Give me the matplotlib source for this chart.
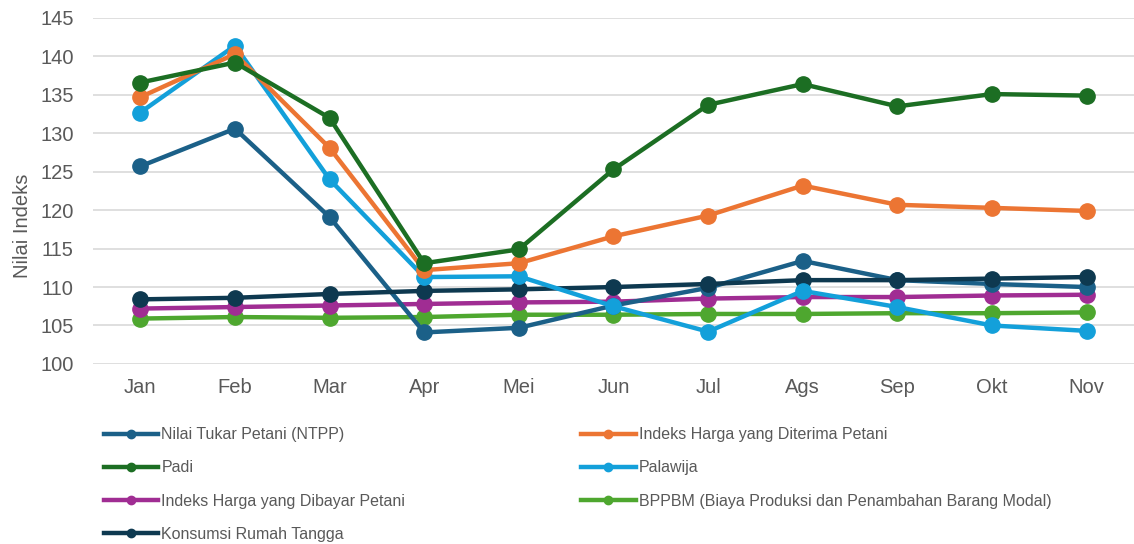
import matplotlib
matplotlib.use("Agg")
from matplotlib import pyplot as plt
from matplotlib.lines import Line2D

plt.rcParams['font.family'] = ['Liberation Sans', 'DejaVu Sans']

months = ["Jan", "Feb", "Mar", "Apr", "Mei", "Jun", "Jul", "Ags", "Sep", "Okt", "Nov"]

ntpp = [125.7, 130.6, 119.1, 104.1, 104.7, 107.6, 109.9, 113.4, 110.9, 110.4, 110.0]
diterima = [134.7, 140.3, 128.1, 112.2, 113.1, 116.6, 119.3, 123.2, 120.7, 120.3, 119.9]
padi = [136.6, 139.2, 132.0, 113.1, 114.9, 125.3, 133.7, 136.4, 133.5, 135.1, 134.9]
palawija = [132.7, 141.4, 124.0, 111.3, 111.4, 107.5, 104.2, 109.5, 107.4, 105.0, 104.3]
dibayar = [107.2, 107.4, 107.6, 107.8, 108.0, 108.1, 108.5, 108.7, 108.7, 108.9, 109.0]
bppbm = [105.9, 106.1, 106.0, 106.1, 106.4, 106.4, 106.5, 106.5, 106.6, 106.6, 106.7]
konsumsi = [108.4, 108.6, 109.1, 109.5, 109.7, 110.0, 110.4, 110.9, 110.9, 111.1, 111.3]

series = [
    ("Nilai Tukar Petani (NTPP)", ntpp, "#1B6088"),
    ("Indeks Harga yang Diterima Petani", diterima, "#EC7533"),
    ("Padi", padi, "#1C6E23"),
    ("Palawija", palawija, "#13A0DA"),
    ("Indeks Harga yang Dibayar Petani", dibayar, "#A02D93"),
    ("BPPBM (Biaya Produksi dan Penambahan Barang Modal)", bppbm, "#4EA72F"),
    ("Konsumsi Rumah Tangga", konsumsi, "#0E3950"),
]

fig = plt.figure(figsize=(11.34, 5.44), dpi=100)
ax = fig.add_axes([0.082, 0.331, 0.918, 0.636])

x = list(range(len(months)))
# draw in an order so that the stacking looks like the original
draw_order = [5, 4, 0, 6, 3, 1, 2]
for i in draw_order:
    name, vals, col = series[i]
    ax.plot(x, vals, color=col, linewidth=3.2, marker='o', markersize=11,
            solid_joinstyle='round', zorder=3 + draw_order.index(i))

ax.set_xlim(-0.5, len(months) - 0.5)
ax.set_ylim(100, 145)
ax.set_yticks(range(100, 146, 5))
ax.set_xticks(x)
ax.set_xticklabels(months)
ax.grid(axis='y', color='#D9D9D9', linewidth=1.2)
ax.set_axisbelow(True)
for s in ax.spines.values():
    s.set_visible(False)
ax.tick_params(axis='both', length=0, labelsize=14.5, labelcolor='#595959')
ax.tick_params(axis='y', pad=14)
ax.tick_params(axis='x', pad=10)
ax.set_ylabel("Nilai Indeks", fontsize=14.5, color='#595959')
ax.yaxis.set_label_coords(-0.059, 0.40)


def handle(col):
    return Line2D([0], [0], color=col, linewidth=3.2, marker='o', markersize=6)


col1 = [0, 2, 4, 6]
col2 = [1, 3, 5]
for idxs, xpos in ((col1, 0.086), (col2, 0.507)):
    leg = fig.legend([handle(series[i][2]) for i in idxs],
                     [series[i][0] for i in idxs],
                     loc='upper left', bbox_to_anchor=(xpos, 0.226),
                     frameon=False, fontsize=11.5, handlelength=3.4,
                     handletextpad=0.2, labelspacing=1.13, borderaxespad=0)
    for t in leg.get_texts():
        t.set_color('#595959')

fig.savefig("out.png", dpi=100)
